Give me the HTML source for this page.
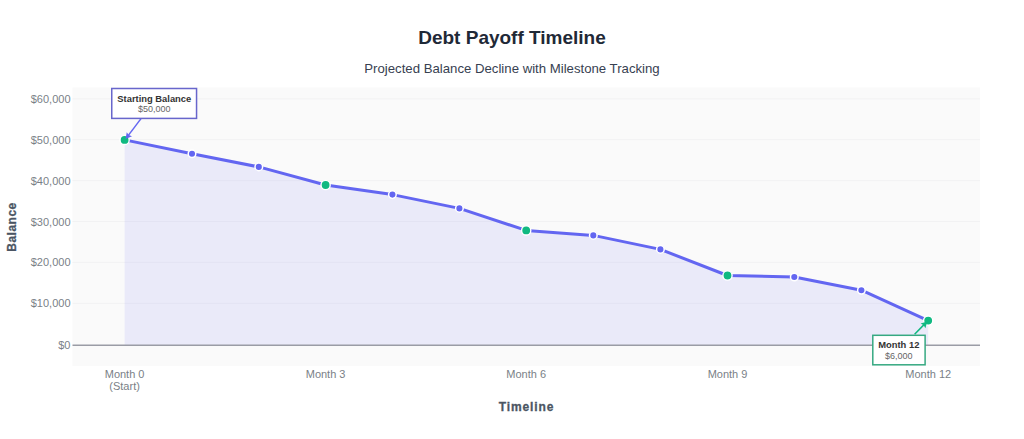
<!DOCTYPE html>
<html>
<head>
<meta charset="utf-8">
<style>
html,body{margin:0;padding:0;background:#fff;width:1024px;height:439px;overflow:hidden;}
svg{display:block;}
text{font-family:"Liberation Sans",sans-serif;}
</style>
</head>
<body>
<svg width="1024" height="439" viewBox="0 0 1024 439">
  <rect x="0" y="0" width="1024" height="439" fill="#ffffff"/>
  <!-- plot area -->
  <rect x="72.5" y="87.5" width="907.5" height="278.5" fill="#fafafa"/>
  <!-- gridlines -->
  <g stroke="#f2f2f3" stroke-width="1">
    <line x1="72.5" x2="980" y1="98.8" y2="98.8"/>
    <line x1="72.5" x2="980" y1="139.7" y2="139.7"/>
    <line x1="72.5" x2="980" y1="180.6" y2="180.6"/>
    <line x1="72.5" x2="980" y1="221.5" y2="221.5"/>
    <line x1="72.5" x2="980" y1="262.4" y2="262.4"/>
    <line x1="72.5" x2="980" y1="303.3" y2="303.3"/>
  </g>
  <!-- fill -->
  <path d="M124.6,139.9 L192,153.7 L258.8,166.9 L325.6,185 L392.4,194.6 L459.4,208.4 L526.2,230.4 L593.3,235.4 L660.4,249.4 L727.5,275.5 L794.3,277 L861.4,290.2 L928.2,320.6 L928.2,345.2 L124.6,345.2 Z" fill="rgba(99,102,241,0.1)"/>
  <!-- zero line -->
  <line x1="72.5" x2="980" y1="345.3" y2="345.3" stroke="#9a9ca5" stroke-width="1.5"/>
  <!-- line -->
  <polyline points="124.6,139.9 192,153.7 258.8,166.9 325.6,185 392.4,194.6 459.4,208.4 526.2,230.4 593.3,235.4 660.4,249.4 727.5,275.5 794.3,277 861.4,290.2 928.2,320.6" fill="none" stroke="#6366f1" stroke-width="3" stroke-linejoin="round"/>
  <!-- small markers -->
  <g fill="#6366f1" stroke="#ffffff" stroke-width="1.5">
    <circle cx="192" cy="153.7" r="3.8"/>
    <circle cx="258.8" cy="166.9" r="3.8"/>
    <circle cx="392.4" cy="194.6" r="3.8"/>
    <circle cx="459.4" cy="208.4" r="3.8"/>
    <circle cx="593.3" cy="235.4" r="3.8"/>
    <circle cx="660.4" cy="249.4" r="3.8"/>
    <circle cx="794.3" cy="277" r="3.8"/>
    <circle cx="861.4" cy="290.2" r="3.8"/>
  </g>
  <!-- milestone markers -->
  <g fill="#10b981" stroke="#ffffff" stroke-width="1.4">
    <circle cx="124.6" cy="139.9" r="4.6"/>
    <circle cx="325.6" cy="185" r="4.6"/>
    <circle cx="526.2" cy="230.4" r="4.6"/>
    <circle cx="727.5" cy="275.5" r="4.6"/>
    <circle cx="928.2" cy="320.6" r="4.6"/>
  </g>

  <!-- annotation 1 -->
  <line x1="141.2" x2="127.6" y1="118.4" y2="136.4" stroke="#6366f1" stroke-width="1.5"/>
  <path transform="translate(126.25,138.2) rotate(128.4) scale(1.12)" d="M-4.5,-3L-3.6,0L-4.5,3L1,0Z" fill="#6366f1"/>
  <rect x="111.75" y="88.5" width="84.8" height="29.9" fill="#ffffff" stroke="#6866cc" stroke-width="1.5"/>
  <text x="154.3" y="101.8" text-anchor="middle" font-size="9.4" font-weight="700" fill="#333">Starting Balance</text>
  <text x="154.3" y="112.3" text-anchor="middle" font-size="9" fill="#666">$50,000</text>

  <!-- annotation 2 -->
  <line x1="914.6" x2="924.8" y1="334.3" y2="323.9" stroke="#10b981" stroke-width="1.5"/>
  <path transform="translate(926.5,322.3) rotate(-45.8) scale(1.12)" d="M-4.5,-3L-3.6,0L-4.5,3L1,0Z" fill="#10b981"/>
  <rect x="872.8" y="335.3" width="52.3" height="29.5" fill="#ffffff" stroke="#36a982" stroke-width="1.5"/>
  <text x="898.8" y="348" text-anchor="middle" font-size="9.4" font-weight="700" fill="#333">Month 12</text>
  <text x="898.8" y="358.8" text-anchor="middle" font-size="9" fill="#666">$6,000</text>

  <!-- titles -->
  <text x="512" y="43.7" text-anchor="middle" font-size="19" font-weight="700" fill="#1f2937">Debt Payoff Timeline</text>
  <text x="512" y="72.5" text-anchor="middle" font-size="13.2" fill="#374151">Projected Balance Decline with Milestone Tracking</text>

  <!-- y ticks -->
  <g font-size="11" fill="#7a7f87" text-anchor="end">
    <text x="70.5" y="102.8">$60,000</text>
    <text x="70.5" y="143.7">$50,000</text>
    <text x="70.5" y="184.6">$40,000</text>
    <text x="70.5" y="225.5">$30,000</text>
    <text x="70.5" y="266.4">$20,000</text>
    <text x="70.5" y="307.3">$10,000</text>
    <text x="70.5" y="349.1">$0</text>
  </g>
  <!-- x ticks -->
  <g font-size="11" fill="#7a7f87" text-anchor="middle">
    <text x="124.6" y="377.8">Month 0</text>
    <text x="124.6" y="390.2">(Start)</text>
    <text x="325.6" y="377.8">Month 3</text>
    <text x="526.2" y="377.8">Month 6</text>
    <text x="727.5" y="377.8">Month 9</text>
    <text x="928.2" y="377.8">Month 12</text>
  </g>
  <!-- axis titles -->
  <text x="526.5" y="411.1" text-anchor="middle" font-size="12" font-weight="700" fill="#4b5563" stroke="#4b5563" stroke-width="0.3" letter-spacing="0.9">Timeline</text>
  <text transform="translate(16.2,227) rotate(-90)" x="0" y="0" text-anchor="middle" font-size="12" font-weight="700" fill="#4b5563" stroke="#4b5563" stroke-width="0.3" letter-spacing="0.5">Balance</text>
</svg>
</body>
</html>
